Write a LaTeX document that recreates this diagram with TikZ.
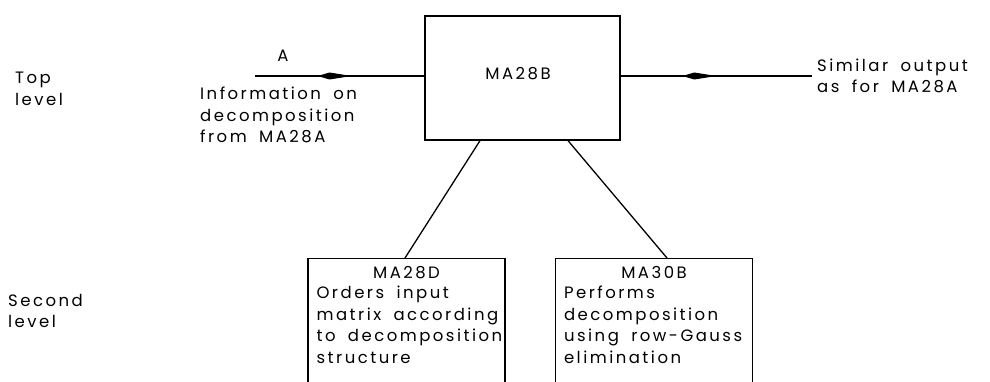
\documentclass[tikz,border=0pt]{standalone}
\usepackage{fontspec}
\setmainfont[LetterSpace=15,WordSpace=1.8]{Poppins}
\usetikzlibrary{arrows.meta, positioning, decorations.markings}

\begin{document}
\begin{tikzpicture}[x=1pt, y=1pt,
        box/.style={draw, line width=1.3pt, minimum width=195pt, minimum height=124pt, inner sep=0pt},
        subbox/.style={draw, line width=1.3pt, minimum width=197pt, minimum height=160pt, anchor=north, inner sep=0pt},
        lbl/.style={font=\fontsize{16.5}{21.5}\selectfont, align=left, inner sep=0pt},
        conn/.style={line width=1.3pt},
        midarrow/.style={line width=1.3pt, decoration={markings, mark=at position #1 with {\arrow{Kite[length=34pt,width=7pt,inset=12pt]}}}, postaction=decorate}
    ]
        \useasboundingbox (0,0) rectangle (990,381);

        \node[box] (main) at (522.5,303) {};
        \node[lbl] at (518,307) {MA28B};

        \coordinate (in) at (255,305);
        \coordinate (out) at (812,305);

        \node[subbox] (dec) at (406.5,123) {};
        \node[subbox] (elim) at (654,123) {};

        \node[lbl, anchor=west] (top) at (15,292) {Top\\level};
        \node[lbl, anchor=west] (second) at (8,70) {Second\\level};

        \node[lbl, anchor=south] (a) at (283,319) {A};
        \node[lbl, anchor=north west] (info) at (200,294) {Information on\\decomposition\\from MA28A};
        \node[lbl, anchor=west, right=5pt of out] (sim) {Similar output\\as for MA28A};

        \node[lbl, below=8pt of dec.north] (dect) {MA28D};
        \node[lbl, anchor=north west] (decb) at ([xshift=9pt, yshift=-28pt]dec.north west) {Orders input\\matrix according\\to decomposition\\structure};
        \node[lbl, below=8pt of elim.north] (elimt) {MA30B};
        \node[lbl, anchor=north west] (elimb) at ([xshift=9pt, yshift=-28pt]elim.north west) {Performs\\decomposition\\using row-Gauss\\elimination};

        \draw[midarrow=0.57] (in) -- (in -| main.west);
        \draw[midarrow=0.5] (out -| main.east) -- (out);

        \draw[conn] ([xshift=-42.5pt]main.south) -- ([xshift=-1.5pt]dec.north);
        \draw[conn] ([xshift=45.5pt]main.south) -- ([xshift=13pt]elim.north);

    \end{tikzpicture}
\end{document}
